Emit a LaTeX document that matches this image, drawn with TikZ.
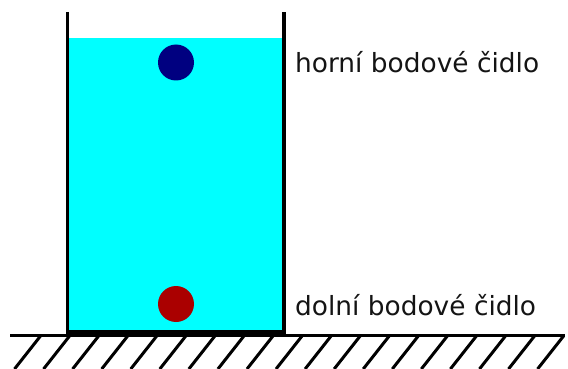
\documentclass[tikz,border=0pt]{standalone}
\usepackage{fontspec}
\setmainfont{DejaVu Sans}
\definecolor{water}{RGB}{0,255,255}
\definecolor{sensorblue}{RGB}{0,0,128}
\definecolor{sensorred}{RGB}{170,0,0}
\begin{document}
\begin{tikzpicture}[x=1pt,y=-1pt,
  wall/.style={line width=3.4pt,black},
  groundline/.style={line width=3.6pt,black},
  hatchline/.style={line width=3pt,black},
  sensor/.style={circle,minimum size=36pt,inner sep=0pt},
  lbl/.style={anchor=base west,inner sep=0pt,font=\fontsize{26.4}{30}\selectfont,text=black!92}]
\useasboundingbox (0,0) rectangle (568,369);
% water
\fill[water] (67,38) rectangle (284,331);
% walls
\coordinate (tl) at (67.5,12);
\coordinate (bl) at (67.5,332);
\coordinate (br) at (283.8,332);
\coordinate (tr) at (283.8,12);
\draw[wall,line join=miter] (tl) -- (bl) -- (br) -- (tr);
% ground
\coordinate (g0) at (10,335.5);
\coordinate (g1) at (565,335.5);
\draw[groundline] (g0) -- (g1);
\fill[black] (65.8,329.5) rectangle (285.5,335);
\foreach \i in {0,...,18}{
  \coordinate (h\i a) at ({40.5+29.06*\i},336);
  \coordinate (h\i b) at ({40.5+29.06*\i-26},369);
  \draw[hatchline] (h\i a) -- (h\i b);
}
% sensors
\node[sensor,fill=sensorblue] (upper) at (176,62.5) {};
\node[sensor,fill=sensorred] (lower) at (176,304) {};
% labels
\node[lbl] (ulabel) at (295,72.5) {horní bodové čidlo};
\node[lbl] (llabel) at (295,315) {dolní bodové čidlo};
\end{tikzpicture}
\end{document}
